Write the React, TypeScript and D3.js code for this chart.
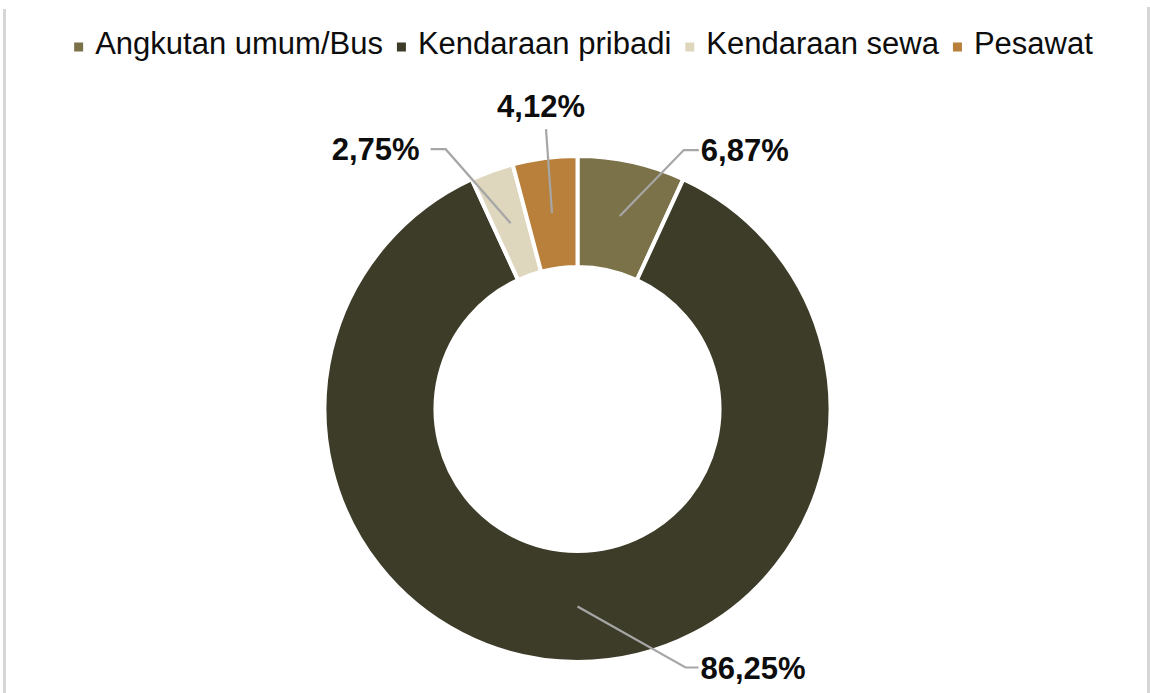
import React, { useEffect, useRef } from 'react';
import * as d3 from 'd3';

// moda transportasi
const categories = ['Angkutan umum/Bus', 'Kendaraan pribadi', 'Kendaraan sewa', 'Pesawat'];
const shares = [6.87, 86.25, 2.75, 4.12];
const labels = ['6,87%', '86,25%', '2,75%', '4,12%'];
const colors = ['#7B7249', '#3D3C29', '#DFD6BE', '#B8803B'];

// leader elbow offset from slice centroid, and horizontal tail (layout only)
const leaderOffsets = [[64, -66, 15], [108, 61, 13], [-65, -74, -15], [-6, -84, 0]];

const W = 1150;
const H = 693;

const App = () => {
  const ref = useRef<SVGSVGElement>(null);

  useEffect(() => {
    const svg = d3.select(ref.current);
    svg.selectAll('*').remove();

    const cx = 577.5, cy = 409;
    const outerR = 253, innerR = 142;

    // frame edges
    svg.append('line').attr('x1', 4.5).attr('x2', 4.5).attr('y1', 9).attr('y2', H)
      .attr('stroke', '#D6D6D6').attr('stroke-width', 3);
    svg.append('line').attr('x1', 1148.5).attr('x2', 1148.5).attr('y1', 7).attr('y2', H)
      .attr('stroke', '#D6D6D6').attr('stroke-width', 3);

    const data = categories.map((c, i) => ({ name: c, value: shares[i], label: labels[i], color: colors[i], off: leaderOffsets[i] }));
    const pie = d3.pie<any>().sort(null).value(d => d.value);
    const arcs = pie(data);
    const arc = d3.arc<any>().innerRadius(innerR).outerRadius(outerR);

    const g = svg.append('g').attr('transform', `translate(${cx},${cy})`);
    g.selectAll('path')
      .data(arcs)
      .join('path')
      .attr('d', arc)
      .attr('fill', d => d.data.color)
      .attr('stroke', '#fff')
      .attr('stroke-width', 4)
      .attr('stroke-linejoin', 'round');

    // leader lines + labels
    arcs.forEach(a => {
      const [x0, y0] = arc.centroid(a);
      const [dx, dy, tail] = a.data.off;
      const x1 = x0 + dx, y1 = y0 + dy;
      const x2 = x1 + tail;
      g.append('polyline')
        .attr('points', [[x0, y0], [x1, y1], [x2, y1]].map(p => p.join(',')).join(' '))
        .attr('fill', 'none')
        .attr('stroke', '#A6A6A6')
        .attr('stroke-width', 2.2);
      const t = g.append('text')
        .attr('font-family', 'Liberation Sans, Arial, sans-serif')
        .attr('font-weight', 'bold')
        .attr('font-size', 31)
        .attr('fill', '#0D0D0D')
        .text(a.data.label);
      if (tail > 0) {
        t.attr('x', x2 + 2).attr('y', y1).attr('dy', '0.36em').attr('text-anchor', 'start');
      } else if (tail < 0) {
        t.attr('x', x2 - 11).attr('y', y1).attr('dy', '0.36em').attr('text-anchor', 'end');
      } else {
        t.attr('x', x1 - 5).attr('y', y1 - 12).attr('text-anchor', 'middle');
      }
    });

    // legend
    const legend = svg.append('g');
    const sq = 9, gapAfterSq = 12, gapItem = 14;
    let x = 0;
    categories.forEach((c, i) => {
      const item = legend.append('g').attr('transform', `translate(${x},0)`);
      item.append('rect').attr('x', 0).attr('y', -sq / 2).attr('width', sq).attr('height', sq).attr('fill', colors[i]);
      const t = item.append('text')
        .attr('x', sq + gapAfterSq)
        .attr('y', 7)
        .attr('font-family', 'Liberation Sans, Arial, sans-serif')
        .attr('font-size', 31)
        .attr('fill', '#0D0D0D')
        .text(c);
      const w = (t.node() as SVGTextElement).getComputedTextLength();
      x += sq + gapAfterSq + w + gapItem;
    });
    const total = x - gapItem;
    legend.attr('transform', `translate(${583.5 - total / 2},47)`);
  }, []);

  return (
    <div style={{ position: 'absolute', left: 0, top: 0 }}>
      <svg ref={ref} width={W} height={H} viewBox={`0 0 ${W} ${H}`} style={{ display: 'block', background: '#fff' }} />
    </div>
  );
};

export default App;
